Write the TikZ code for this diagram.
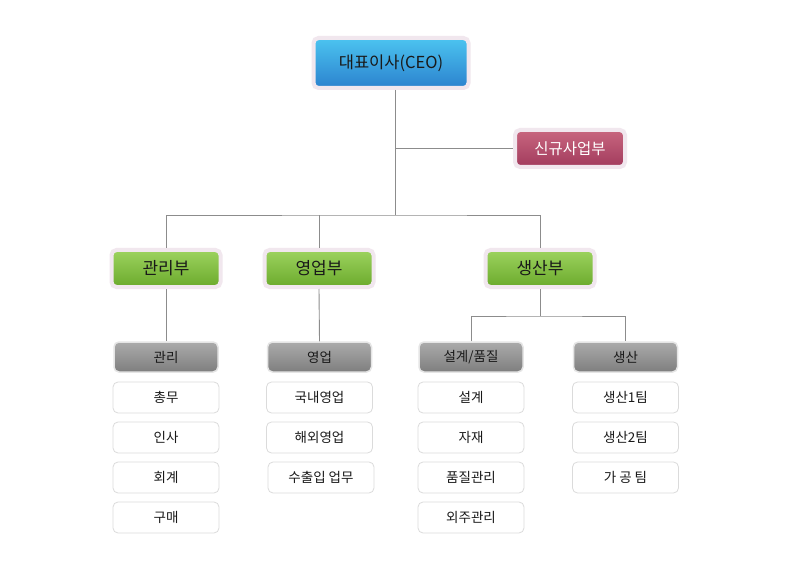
\documentclass[tikz,border=0pt]{standalone}
\usepackage{fontspec}
\setmainfont{Noto Sans CJK KR}
\definecolor{halo}{HTML}{F1E7EE}
\definecolor{ceotop}{HTML}{4CC4F0}
\definecolor{ceobot}{HTML}{2B82CE}
\definecolor{newtop}{HTML}{C8667F}
\definecolor{newbot}{HTML}{A23B5D}
\definecolor{depttop}{HTML}{9DD35F}
\definecolor{deptbot}{HTML}{6BAA2C}
\definecolor{teamtop}{HTML}{ABABAB}
\definecolor{teambot}{HTML}{7E7E7E}
\definecolor{wirecol}{HTML}{8C8C8C}
\tikzset{
  box/.style={rounded corners=5pt, inner sep=0pt, align=center, text=black!90},
  chief/.style={box, top color=ceotop, bottom color=ceobot, draw=halo, line width=4pt,
    minimum width=155pt, minimum height=50pt, font=\fontsize{16.5}{18}\selectfont},
  newbiz/.style={box, top color=newtop, bottom color=newbot, draw=halo, line width=4pt,
    minimum width=110pt, minimum height=37pt, text=white, font=\fontsize{15.5}{17}\selectfont},
  dept/.style={box, top color=depttop, bottom color=deptbot, draw=halo, line width=4pt,
    minimum width=109pt, minimum height=37pt, font=\fontsize{17}{19}\selectfont},
  team/.style={box, top color=teamtop, bottom color=teambot, draw=black!10, line width=1.5pt,
    minimum width=104pt, minimum height=30pt, font=\fontsize{13.5}{15}\selectfont},
  duty/.style={box, fill=white, draw=black!14, line width=0.8pt,
    minimum width=106pt, minimum height=31pt, font=\fontsize{13.5}{15}\selectfont},
  wire/.style={draw=wirecol, line width=0.9pt}
}
\begin{document}
\begin{tikzpicture}[x=1pt,y=-1pt,line cap=butt]
\useasboundingbox[fill=white] (0,0) rectangle (790,580);
% top level
\node[chief] (ceo) at (391,63) {대표이사(CEO)};
\node[newbiz] (new) at (570,148.5) {신규사업부};
\coordinate (hub) at (395,215);
% departments
\node[dept] (gm) at (166,268.5) {관리부};
\node[dept] (gs) at (319,268.5) {영업부};
\node[dept] (gp) at (540,268.5) {생산부};
% teams
\node[team] (tm) at (166,357) {관리};
\node[team] (ts) at (319.5,357) {영업};
\node[team] (tq) at (471,357) {설계/품질};
\node[team] (tp) at (625.5,357) {생산};
\coordinate (psplit) at (540,316);
% duties
\foreach \x/\y/\l in {166/397.5/총무,166/437.5/인사,166/477.5/회계,166/517.5/구매,
  319.5/397.5/국내영업,319.5/437.5/해외영업,321/477.5/수출입 업무,
  471/397.5/설계,471/437.5/자재,471/477.5/품질관리,471/517.5/외주관리,
  625.5/397.5/생산1팀,625.5/437.5/생산2팀,625.5/477.5/가 공 팀}{\node[duty] at (\x,\y) {\l};}
% connectors
\draw[wire] (ceo.south -| hub) -- (hub);
\draw[wire] (hub |- new) -- (new.west);
\draw[wire] (gm.north) |- (hub) -| (gp.north);
\draw[wire] (gs.north) -- (gs.north |- hub);
\draw[wire] (gm.south) -- (tm.north);
\draw[wire] (gs.south) -- (ts.north);
\draw[wire] (gp.south) -- (psplit);
\draw[wire] (tq.north) |- (psplit) -| (tp.north);
\end{tikzpicture}
\end{document}
